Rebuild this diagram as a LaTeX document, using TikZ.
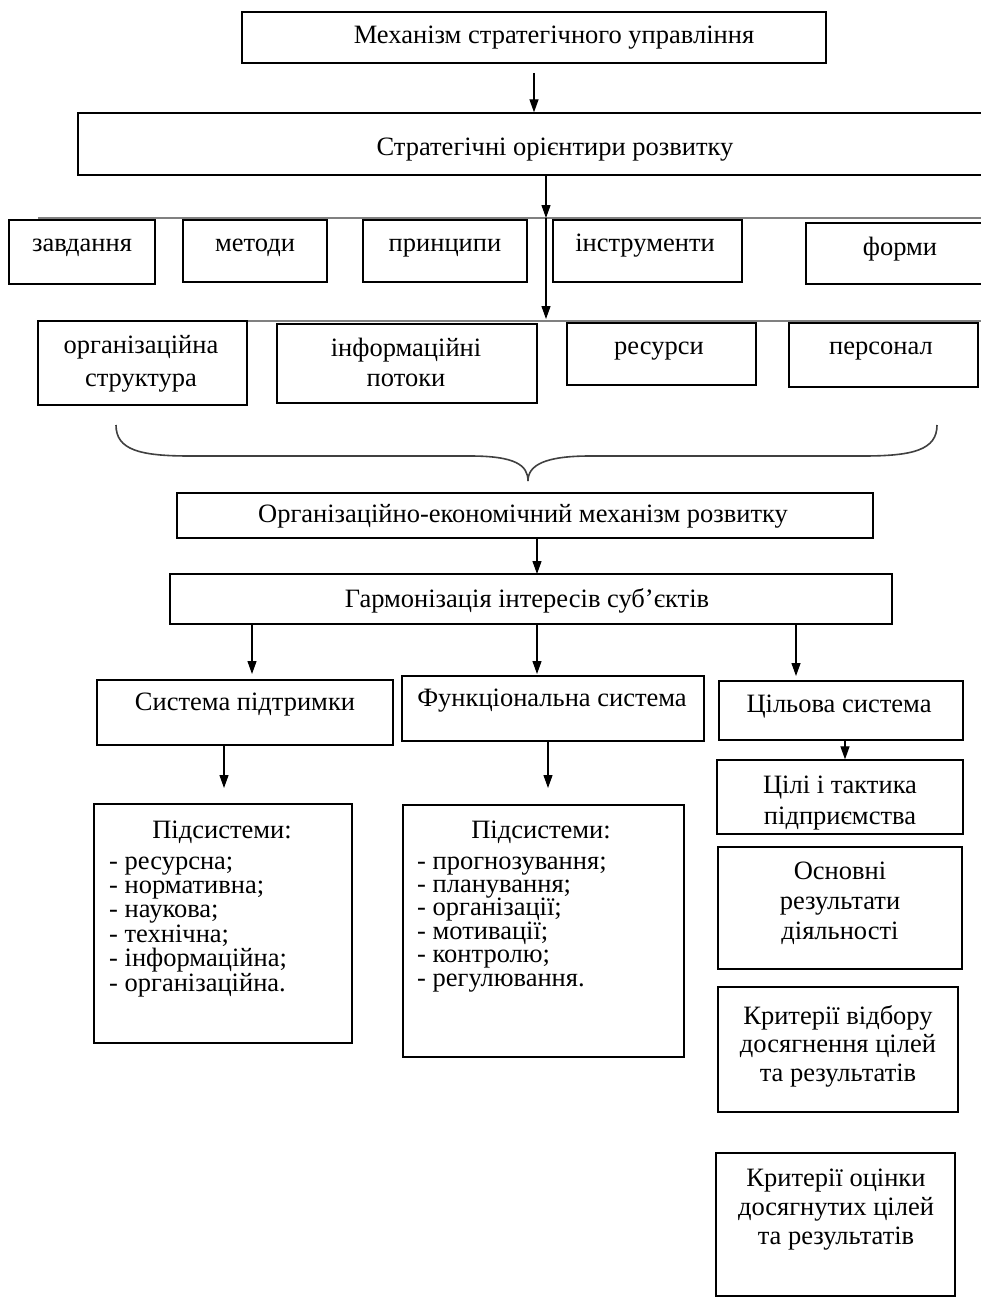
\documentclass[tikz,border=0pt]{standalone}
\usepackage{fontspec}
\setmainfont{Liberation Serif}
\usetikzlibrary{arrows.meta,calc}
\newcommand{\fsz}{\fontsize{26.5}{30}\selectfont}
\begin{document}
\begin{tikzpicture}[x=1pt,y=-1pt,
  bx/.style={draw,line width=1.3pt,inner sep=0pt,minimum width=#1},
  bx/.default=10pt,
  tx/.style={font=\fsz,anchor=base,inner sep=0pt,align=center},
  arr/.style={line width=1.2pt,-{Triangle[length=13pt,width=9pt]}},
  hl/.style={draw=black!50,line width=2pt},
  brc/.style={draw=black!75,line width=1.6pt}]
\useasboundingbox[fill=white] (0,0) rectangle (980,1298);
% top boxes
\node[bx=584pt,minimum height=51pt] (b1) at (534,37.5) {};
\node[tx] (t1) at (554,44) {Механізм стратегічного управління};
\node[bx=906pt,minimum height=62pt] (b2) at (531,144) {};
\node[tx] (t2) at (555,155) {Стратегічні орієнтири розвитку};
\coordinate (a1) at (534,73);
\draw[arr] (a1) -- (a1 |- b2.north);
% row 1
\coordinate (h1l) at (38,218);
\coordinate (h1r) at (985,218);
\coordinate (h1) at (546,218);
\draw[hl] (h1l) -- (h1r);
\node[bx=146pt,minimum height=64pt] (r1a) at (82,252) {};
\node[bx=144pt,minimum height=62pt] (r1b) at (255,251) {};
\node[bx=164pt,minimum height=62pt] (r1c) at (445,251) {};
\node[bx=189pt,minimum height=62pt] (r1d) at (647.5,251) {};
\node[bx=184pt,minimum height=61pt] (r1e) at (898,253.5) {};
\node[tx] (t1a) at (82,251) {завдання};
\node[tx] (t1b) at (255,251) {методи};
\node[tx] (t1c) at (445,251) {принципи};
\node[tx] (t1d) at (645,251) {інструменти};
\node[tx] (t1e) at (900,255) {форми};
\draw[arr] (h1 |- b2.south) -- (h1);
% row 2
\coordinate (h2l) at (38,321);
\coordinate (h2r) at (985,321);
\coordinate (h2) at (546,319);
\draw[hl] (h2l) -- (h2r);
\draw[arr] (h1) -- (h2);
\node[bx=209pt,minimum height=84pt] (r2a) at (142.5,363) {};
\node[bx=260pt,minimum height=79pt] (r2b) at (407,363.5) {};
\node[bx=189pt,minimum height=62pt] (r2c) at (661.5,354) {};
\node[bx=189pt,minimum height=64pt] (r2d) at (883.5,355) {};
\node[tx,font=\fontsize{26.5}{33}\selectfont] (t2a) at (141,386) {організаційна\\структура};
\node[tx] (t2b) at (406,386) {інформаційні\\потоки};
\node[tx] (t2c) at (659,354) {ресурси};
\node[tx] (t2d) at (881,354) {персонал};
% brace
\draw[brc] (116,425) .. controls (116,450) and (140,456) .. (190,456) -- (470,456) .. controls (515,456) and (528,465) .. (528,481);
\draw[brc] (937,425) .. controls (937,450) and (913,456) .. (863,456) -- (590,456) .. controls (545,456) and (528,465) .. (528,481);
% org-econ
\node[bx=696pt,minimum height=45pt] (oe) at (525,515.5) {};
\node[tx] (toe) at (523,522) {Організаційно-економічний механізм розвитку};
\node[bx=722pt,minimum height=50pt] (gi) at (531,599) {};
\node[tx] (tgi) at (527,607) {Гармонізація інтересів суб’єктів};
\coordinate (g0) at (537,574);
\draw[arr] (g0 |- oe.south) -- (g0);
% row 3
\node[bx=296pt,minimum height=65pt] (sp) at (245,712.5) {};
\node[bx=302pt,minimum height=65pt] (fs) at (553,708.5) {};
\node[bx=244pt,minimum height=59pt] (cs) at (841,710.5) {};
\node[tx] (tsp) at (245,710) {Система підтримки};
\node[tx] (tfs) at (552,706) {Функціональна система};
\node[tx] (tcs) at (839,712) {Цільова система};
\coordinate (g1) at (252,674);
\coordinate (g2) at (537,674);
\coordinate (g3) at (796,676);
\draw[arr] (g1 |- gi.south) -- (g1);
\draw[arr] (g2 |- gi.south) -- (g2);
\draw[arr] (g3 |- gi.south) -- (g3);
% lists
\node[bx=258pt,minimum height=239pt] (l1) at (223,923.5) {};
\node[bx=281pt,minimum height=252pt] (l2) at (543.5,931) {};
\coordinate (d1) at (224,788);
\coordinate (d2) at (548,788);
\draw[arr] (d1 |- sp.south) -- (d1);
\draw[arr] (d2 |- fs.south) -- (d2);
\node[tx] (tl1h) at (222,838) {Підсистеми:};
\node[tx,anchor=base west,align=left,font=\fontsize{26.5}{24.4}\selectfont] (tl1) at (109,991) {- ресурсна;\\- нормативна;\\- наукова;\\- технічна;\\- інформаційна;\\- організаційна.};
\node[tx] (tl2h) at (541,838) {Підсистеми:};
\node[tx,anchor=base west,align=left,font=\fontsize{26.5}{23.4}\selectfont] (tl2) at (417,986) {- прогнозування;\\- планування;\\- організації;\\- мотивації;\\- контролю;\\- регулювання.};
% right column
\node[bx=246pt,minimum height=74pt] (c1) at (840,797) {};
\coordinate (d3) at (845,760);
\draw[arr] (d3 |- cs.south) -- (c1.north -| d3);
\node[tx,font=\fontsize{26.5}{31}\selectfont] (tc1) at (840,824) {Цілі і тактика\\підприємства};
\node[bx=244pt,minimum height=122pt] (c2) at (840,908) {};
\node[tx] (tc2) at (840,939) {Основні\\результати\\діяльності};
\node[bx=240pt,minimum height=125pt] (c3) at (838,1049.5) {};
\node[tx,font=\fontsize{26.5}{28.5}\selectfont] (tc3) at (838,1081) {Критерії відбору\\досягнення цілей\\та результатів};
\node[bx=239pt,minimum height=143pt] (c4) at (835.5,1224.5) {};
\node[tx,font=\fontsize{26.5}{29}\selectfont] (tc4) at (836,1244) {Критерії оцінки\\досягнутих цілей\\та результатів};
\end{tikzpicture}
\end{document}
